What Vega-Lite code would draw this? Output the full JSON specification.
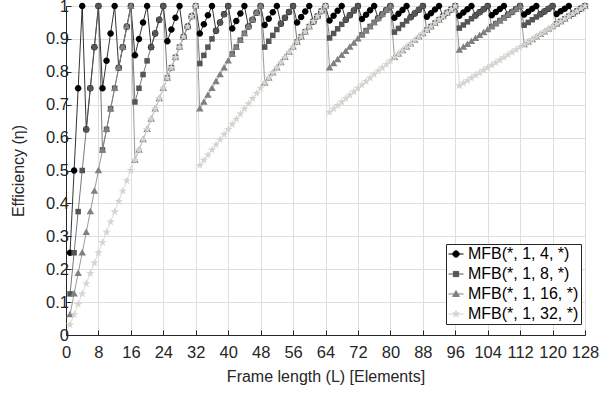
{
"$schema":"https://vega.github.io/schema/vega-lite/v6.json",
"width":519,"height":329,
"autosize":"none",
"padding":{"left":66,"top":6,"right":30,"bottom":58},
"background":"white",
"config":{"font":"Liberation Sans","view":{"stroke":"#262626","strokeWidth":1},
"axis":{"labelFont":"Liberation Sans","labelFontSize":16.5,"labelColor":"#262626","titleFont":"Liberation Sans","titleFontSize":16,"titleFontWeight":"normal","titleColor":"#262626","domainColor":"#262626","tickColor":"#262626","gridColor":"#dedede","gridWidth":1,"tickSize":-5}},
"datasets":{"markers":[{"s":"a","m":"circ"},{"s":"b","m":"sq"},{"s":"c","m":"tri"},{"s":"d","m":"star"}]},
"data":{"values":[
{"L":1,"a":0.25,"b":0.125,"c":0.0625,"d":0.0313},
{"L":2,"a":0.5,"b":0.25,"c":0.125,"d":0.0625},
{"L":3,"a":0.75,"b":0.375,"c":0.1875,"d":0.0938},
{"L":4,"a":1,"b":0.5,"c":0.25,"d":0.125},
{"L":5,"a":0.625,"b":0.625,"c":0.3125,"d":0.1563},
{"L":6,"a":0.75,"b":0.75,"c":0.375,"d":0.1875},
{"L":7,"a":0.875,"b":0.875,"c":0.4375,"d":0.2188},
{"L":8,"a":1,"b":1,"c":0.5,"d":0.25},
{"L":9,"a":0.75,"b":0.5625,"c":0.5625,"d":0.2813},
{"L":10,"a":0.8333,"b":0.625,"c":0.625,"d":0.3125},
{"L":11,"a":0.9167,"b":0.6875,"c":0.6875,"d":0.3438},
{"L":12,"a":1,"b":0.75,"c":0.75,"d":0.375},
{"L":13,"a":0.8125,"b":0.8125,"c":0.8125,"d":0.4063},
{"L":14,"a":0.875,"b":0.875,"c":0.875,"d":0.4375},
{"L":15,"a":0.9375,"b":0.9375,"c":0.9375,"d":0.4688},
{"L":16,"a":1,"b":1,"c":1,"d":0.5},
{"L":17,"a":0.85,"b":0.7083,"c":0.5313,"d":0.5313},
{"L":18,"a":0.9,"b":0.75,"c":0.5625,"d":0.5625},
{"L":19,"a":0.95,"b":0.7917,"c":0.5938,"d":0.5938},
{"L":20,"a":1,"b":0.8333,"c":0.625,"d":0.625},
{"L":21,"a":0.875,"b":0.875,"c":0.6563,"d":0.6563},
{"L":22,"a":0.9167,"b":0.9167,"c":0.6875,"d":0.6875},
{"L":23,"a":0.9583,"b":0.9583,"c":0.7188,"d":0.7188},
{"L":24,"a":1,"b":1,"c":0.75,"d":0.75},
{"L":25,"a":0.8929,"b":0.7813,"c":0.7813,"d":0.7813},
{"L":26,"a":0.9286,"b":0.8125,"c":0.8125,"d":0.8125},
{"L":27,"a":0.9643,"b":0.8438,"c":0.8438,"d":0.8438},
{"L":28,"a":1,"b":0.875,"c":0.875,"d":0.875},
{"L":29,"a":0.9063,"b":0.9063,"c":0.9063,"d":0.9063},
{"L":30,"a":0.9375,"b":0.9375,"c":0.9375,"d":0.9375},
{"L":31,"a":0.9688,"b":0.9688,"c":0.9688,"d":0.9688},
{"L":32,"a":1,"b":1,"c":1,"d":1},
{"L":33,"a":0.9167,"b":0.825,"c":0.6875,"d":0.5156},
{"L":34,"a":0.9444,"b":0.85,"c":0.7083,"d":0.5313},
{"L":35,"a":0.9722,"b":0.875,"c":0.7292,"d":0.5469},
{"L":36,"a":1,"b":0.9,"c":0.75,"d":0.5625},
{"L":37,"a":0.925,"b":0.925,"c":0.7708,"d":0.5781},
{"L":38,"a":0.95,"b":0.95,"c":0.7917,"d":0.5938},
{"L":39,"a":0.975,"b":0.975,"c":0.8125,"d":0.6094},
{"L":40,"a":1,"b":1,"c":0.8333,"d":0.625},
{"L":41,"a":0.9318,"b":0.8542,"c":0.8542,"d":0.6406},
{"L":42,"a":0.9545,"b":0.875,"c":0.875,"d":0.6563},
{"L":43,"a":0.9773,"b":0.8958,"c":0.8958,"d":0.6719},
{"L":44,"a":1,"b":0.9167,"c":0.9167,"d":0.6875},
{"L":45,"a":0.9375,"b":0.9375,"c":0.9375,"d":0.7031},
{"L":46,"a":0.9583,"b":0.9583,"c":0.9583,"d":0.7188},
{"L":47,"a":0.9792,"b":0.9792,"c":0.9792,"d":0.7344},
{"L":48,"a":1,"b":1,"c":1,"d":0.75},
{"L":49,"a":0.9423,"b":0.875,"c":0.7656,"d":0.7656},
{"L":50,"a":0.9615,"b":0.8929,"c":0.7813,"d":0.7813},
{"L":51,"a":0.9808,"b":0.9107,"c":0.7969,"d":0.7969},
{"L":52,"a":1,"b":0.9286,"c":0.8125,"d":0.8125},
{"L":53,"a":0.9464,"b":0.9464,"c":0.8281,"d":0.8281},
{"L":54,"a":0.9643,"b":0.9643,"c":0.8438,"d":0.8438},
{"L":55,"a":0.9821,"b":0.9821,"c":0.8594,"d":0.8594},
{"L":56,"a":1,"b":1,"c":0.875,"d":0.875},
{"L":57,"a":0.95,"b":0.8906,"c":0.8906,"d":0.8906},
{"L":58,"a":0.9667,"b":0.9063,"c":0.9063,"d":0.9063},
{"L":59,"a":0.9833,"b":0.9219,"c":0.9219,"d":0.9219},
{"L":60,"a":1,"b":0.9375,"c":0.9375,"d":0.9375},
{"L":61,"a":0.9531,"b":0.9531,"c":0.9531,"d":0.9531},
{"L":62,"a":0.9688,"b":0.9688,"c":0.9688,"d":0.9688},
{"L":63,"a":0.9844,"b":0.9844,"c":0.9844,"d":0.9844},
{"L":64,"a":1,"b":1,"c":1,"d":1},
{"L":65,"a":0.9559,"b":0.9028,"c":0.8125,"d":0.6771},
{"L":66,"a":0.9706,"b":0.9167,"c":0.825,"d":0.6875},
{"L":67,"a":0.9853,"b":0.9306,"c":0.8375,"d":0.6979},
{"L":68,"a":1,"b":0.9444,"c":0.85,"d":0.7083},
{"L":69,"a":0.9583,"b":0.9583,"c":0.8625,"d":0.7188},
{"L":70,"a":0.9722,"b":0.9722,"c":0.875,"d":0.7292},
{"L":71,"a":0.9861,"b":0.9861,"c":0.8875,"d":0.7396},
{"L":72,"a":1,"b":1,"c":0.9,"d":0.75},
{"L":73,"a":0.9605,"b":0.9125,"c":0.9125,"d":0.7604},
{"L":74,"a":0.9737,"b":0.925,"c":0.925,"d":0.7708},
{"L":75,"a":0.9868,"b":0.9375,"c":0.9375,"d":0.7813},
{"L":76,"a":1,"b":0.95,"c":0.95,"d":0.7917},
{"L":77,"a":0.9625,"b":0.9625,"c":0.9625,"d":0.8021},
{"L":78,"a":0.975,"b":0.975,"c":0.975,"d":0.8125},
{"L":79,"a":0.9875,"b":0.9875,"c":0.9875,"d":0.8229},
{"L":80,"a":1,"b":1,"c":1,"d":0.8333},
{"L":81,"a":0.9643,"b":0.9205,"c":0.8438,"d":0.8438},
{"L":82,"a":0.9762,"b":0.9318,"c":0.8542,"d":0.8542},
{"L":83,"a":0.9881,"b":0.9432,"c":0.8646,"d":0.8646},
{"L":84,"a":1,"b":0.9545,"c":0.875,"d":0.875},
{"L":85,"a":0.9659,"b":0.9659,"c":0.8854,"d":0.8854},
{"L":86,"a":0.9773,"b":0.9773,"c":0.8958,"d":0.8958},
{"L":87,"a":0.9886,"b":0.9886,"c":0.9063,"d":0.9063},
{"L":88,"a":1,"b":1,"c":0.9167,"d":0.9167},
{"L":89,"a":0.9674,"b":0.9271,"c":0.9271,"d":0.9271},
{"L":90,"a":0.9783,"b":0.9375,"c":0.9375,"d":0.9375},
{"L":91,"a":0.9891,"b":0.9479,"c":0.9479,"d":0.9479},
{"L":92,"a":1,"b":0.9583,"c":0.9583,"d":0.9583},
{"L":93,"a":0.9688,"b":0.9688,"c":0.9688,"d":0.9688},
{"L":94,"a":0.9792,"b":0.9792,"c":0.9792,"d":0.9792},
{"L":95,"a":0.9896,"b":0.9896,"c":0.9896,"d":0.9896},
{"L":96,"a":1,"b":1,"c":1,"d":1},
{"L":97,"a":0.97,"b":0.9327,"c":0.8661,"d":0.7578},
{"L":98,"a":0.98,"b":0.9423,"c":0.875,"d":0.7656},
{"L":99,"a":0.99,"b":0.9519,"c":0.8839,"d":0.7734},
{"L":100,"a":1,"b":0.9615,"c":0.8929,"d":0.7813},
{"L":101,"a":0.9712,"b":0.9712,"c":0.9018,"d":0.7891},
{"L":102,"a":0.9808,"b":0.9808,"c":0.9107,"d":0.7969},
{"L":103,"a":0.9904,"b":0.9904,"c":0.9196,"d":0.8047},
{"L":104,"a":1,"b":1,"c":0.9286,"d":0.8125},
{"L":105,"a":0.9722,"b":0.9375,"c":0.9375,"d":0.8203},
{"L":106,"a":0.9815,"b":0.9464,"c":0.9464,"d":0.8281},
{"L":107,"a":0.9907,"b":0.9554,"c":0.9554,"d":0.8359},
{"L":108,"a":1,"b":0.9643,"c":0.9643,"d":0.8438},
{"L":109,"a":0.9732,"b":0.9732,"c":0.9732,"d":0.8516},
{"L":110,"a":0.9821,"b":0.9821,"c":0.9821,"d":0.8594},
{"L":111,"a":0.9911,"b":0.9911,"c":0.9911,"d":0.8672},
{"L":112,"a":1,"b":1,"c":1,"d":0.875},
{"L":113,"a":0.9741,"b":0.9417,"c":0.8828,"d":0.8828},
{"L":114,"a":0.9828,"b":0.95,"c":0.8906,"d":0.8906},
{"L":115,"a":0.9914,"b":0.9583,"c":0.8984,"d":0.8984},
{"L":116,"a":1,"b":0.9667,"c":0.9063,"d":0.9063},
{"L":117,"a":0.975,"b":0.975,"c":0.9141,"d":0.9141},
{"L":118,"a":0.9833,"b":0.9833,"c":0.9219,"d":0.9219},
{"L":119,"a":0.9917,"b":0.9917,"c":0.9297,"d":0.9297},
{"L":120,"a":1,"b":1,"c":0.9375,"d":0.9375},
{"L":121,"a":0.9758,"b":0.9453,"c":0.9453,"d":0.9453},
{"L":122,"a":0.9839,"b":0.9531,"c":0.9531,"d":0.9531},
{"L":123,"a":0.9919,"b":0.9609,"c":0.9609,"d":0.9609},
{"L":124,"a":1,"b":0.9688,"c":0.9688,"d":0.9688},
{"L":125,"a":0.9766,"b":0.9766,"c":0.9766,"d":0.9766},
{"L":126,"a":0.9844,"b":0.9844,"c":0.9844,"d":0.9844},
{"L":127,"a":0.9922,"b":0.9922,"c":0.9922,"d":0.9922},
{"L":128,"a":1,"b":1,"c":1,"d":1}
]},
"transform":[{"fold":["a","b","c","d"],"as":["s","e"]},
{"lookup":"s","from":{"data":{"name":"markers"},"key":"s","fields":["m"]}}],
"encoding":{
"x":{"field":"L","type":"quantitative","scale":{"domain":[0,128],"nice":false,"zero":false},
"axis":{"values":[0,8,16,24,32,40,48,56,64,72,80,88,96,104,112,120,128],"title":"Frame length (L) [Elements]","titlePadding":8,"labelPadding":14,"labelFlush":false,"labelOverlap":false}},
"y":{"field":"e","type":"quantitative","scale":{"domain":[0,1],"nice":false},
"axis":{"values":[0,0.1,0.2,0.3,0.4,0.5,0.6,0.7,0.8,0.9,1],"format":"~g","title":"Efficiency (η)","titlePadding":19,"labelPadding":2.5,"labelFlush":false,"labelOverlap":false}},
"color":{"field":"s","type":"nominal","scale":{"domain":["a","b","c","d"],"range":["#000000","#555555","#808080","#d6d4ce"]},
"legend":{"orient":"none","legendX":380,"legendY":238,"title":null,"padding":2,"strokeColor":"#262626","fillColor":"white","labelFont":"Liberation Sans","labelFontSize":16,"labelColor":"#000000","labelOffset":4,"rowPadding":4,"symbolSize":225,
"labelExpr":"datum.value=='a'?'MFB(*, 1, 4, *)':datum.value=='b'?'MFB(*, 1, 8, *)':datum.value=='c'?'MFB(*, 1, 16, *)':'MFB(*, 1, 32, *)'",
"encode":{"symbols":{"update":{
"shape":{"signal":"datum.value=='a'?'M-1,0H1M0.42,0A0.42,0.42,0,1,1,-0.42,0A0.42,0.42,0,1,1,0.42,0Z':datum.value=='b'?'M-1,0H1M-0.35,-0.35H0.35V0.35H-0.35Z':datum.value=='c'?'M-1,0H1M0,-0.45L0.45,0.32L-0.45,0.32Z':'M-1,0H1M0,-0.47L0.1055,-0.145L0.447,-0.145L0.171,0.055L0.276,0.38L0,0.18L-0.276,0.38L-0.171,0.055L-0.447,-0.145L-0.1055,-0.145Z'"},
"fill":{"signal":"datum.value=='a'?'#000000':datum.value=='b'?'#555555':datum.value=='c'?'#808080':'#d6d4ce'"},
"stroke":{"signal":"datum.value=='a'?'#000000':datum.value=='b'?'#555555':datum.value=='c'?'#808080':'#d6d4ce'"},
"size":{"value":225},"strokeWidth":{"value":1},"opacity":{"value":1},"fillOpacity":{"value":1},"strokeOpacity":{"value":1}}}}}}
},
"layer":[
{"mark":{"type":"line","strokeWidth":0.8},
"encoding":{"detail":{"field":"s"}}},
{"mark":{"type":"point","filled":true,"opacity":1,"size":64,"strokeWidth":0.5},
"encoding":{
"shape":{"field":"m","type":"nominal","legend":null,"scale":{"domain":["circ","sq","tri","star"],"range":["M0.81,0A0.81,0.81,0,1,1,-0.81,0A0.81,0.81,0,1,1,0.81,0Z","M-0.69,-0.69H0.69V0.69H-0.69Z","M0,-0.95L0.94,0.68L-0.94,0.68Z","M0,-1.125L0.2526,-0.3476L1.0699,-0.3476L0.4084,0.1328L0.6615,0.9101L0,0.4298L-0.6615,0.9101L-0.4084,0.1328L-1.0699,-0.3476L-0.2526,-0.3476Z"]}},
"order":{"field":"s"}
}}
]
}
